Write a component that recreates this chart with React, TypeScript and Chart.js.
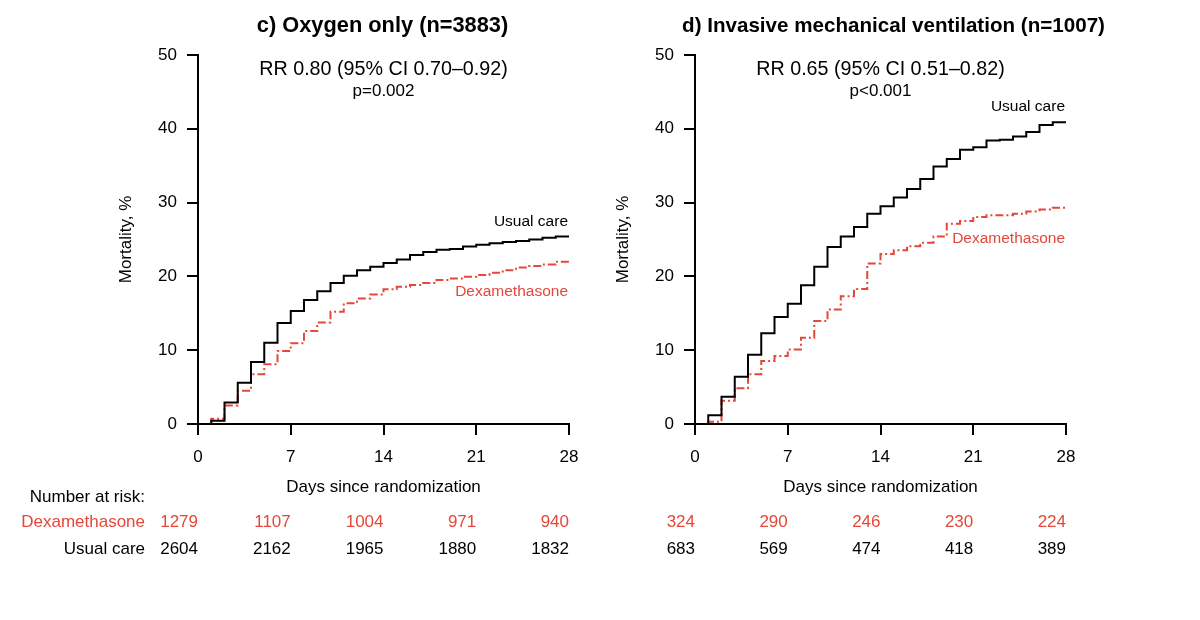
import { useEffect, useRef } from "react";
import { Chart, registerables } from "chart.js";

Chart.register(...registerables);

const FONT = '"Liberation Sans", Arial, Helvetica, sans-serif';
const RED = "#e5473a";
const INK = "#000000";

// Axis ticks
const X_TICKS = [0, 7, 14, 21, 28];
const Y_MAX = 50;
const Y_STEP = 10;
const END_DAY = 28;

// Day on which each step interval starts; the value holds until the next day
const STEP_DAYS = [1, 2, 3, 4, 5, 6, 7, 8, 9, 10, 11, 12, 13, 14, 15, 16, 17, 18, 19, 20, 21, 22, 23, 24, 25, 26, 27];

// c) Oxygen only — cumulative mortality (%)
const OXY_USUAL = [0.45, 2.9, 5.6, 8.4, 11.0, 13.7, 15.3, 16.8, 18.0, 19.1, 20.1, 20.85, 21.3, 21.8, 22.3, 22.9, 23.3, 23.6, 23.7, 24.05, 24.3, 24.5, 24.65, 24.8, 25.0, 25.25, 25.4];
const OXY_DEXA = [0.7, 2.5, 4.5, 6.75, 8.1, 9.9, 10.95, 12.6, 13.75, 15.2, 16.35, 17.0, 17.55, 18.25, 18.6, 18.85, 19.1, 19.5, 19.7, 19.95, 20.2, 20.5, 20.85, 21.2, 21.4, 21.6, 22.0];
const OXY_RISK_DEXA = [1279, 1107, 1004, 971, 940];
const OXY_RISK_USUAL = [2604, 2162, 1965, 1880, 1832];

// d) Invasive mechanical ventilation — cumulative mortality (%)
const IMV_USUAL = [1.2, 3.7, 6.4, 9.4, 12.3, 14.5, 16.3, 18.8, 21.3, 24.0, 25.4, 26.7, 28.5, 29.5, 30.7, 31.85, 33.2, 34.9, 35.9, 37.15, 37.5, 38.4, 38.5, 38.95, 39.55, 40.5, 40.9];
const IMV_DEXA = [0.3, 3.15, 4.85, 6.75, 8.55, 9.2, 10.1, 11.7, 13.95, 15.5, 17.3, 18.3, 21.75, 23.05, 23.55, 24.1, 24.55, 25.4, 27.15, 27.5, 28.05, 28.3, 28.3, 28.5, 28.8, 29.05, 29.3];
const IMV_RISK_DEXA = [324, 290, 246, 230, 224];
const IMV_RISK_USUAL = [683, 569, 474, 418, 389];

type PanelSpec = {
  title: string;
  titleSize: number;
  titleShift: number;
  rr: string;
  p: string;
  usual: number[];
  dexa: number[];
  riskDexa: number[];
  riskUsual: number[];
  usualLabelAt: number; // mortality % where the "Usual care" label sits
  dexaLabelAt: number;
  showRiskLabels: boolean;
  canvasLeft: number;
  pad: { left: number; right: number };
};

const PANELS: PanelSpec[] = [
  {
    title: "c) Oxygen only (n=3883)",
    titleSize: 21.8,
    titleShift: -1,
    rr: "RR 0.80 (95% CI 0.70\u20130.92)",
    p: "p=0.002",
    usual: OXY_USUAL,
    dexa: OXY_DEXA,
    riskDexa: OXY_RISK_DEXA,
    riskUsual: OXY_RISK_USUAL,
    usualLabelAt: 27.4,
    dexaLabelAt: 17.9,
    showRiskLabels: true,
    canvasLeft: 0,
    pad: { left: 116, right: 31 },
  },
  {
    title: "d) Invasive mechanical ventilation (n=1007)",
    titleSize: 20.6,
    titleShift: 13,
    rr: "RR 0.65 (95% CI 0.51\u20130.82)",
    p: "p<0.001",
    usual: IMV_USUAL,
    dexa: IMV_DEXA,
    riskDexa: IMV_RISK_DEXA,
    riskUsual: IMV_RISK_USUAL,
    usualLabelAt: 43.0,
    dexaLabelAt: 25.1,
    showRiskLabels: false,
    canvasLeft: 600,
    pad: { left: 13, right: 134 },
  },
];

const CANVAS_W = 600;
const CANVAS_H = 620;

// Kaplan–Meier style step points: flat at 0 until the first event day
function stepPoints(values: number[]) {
  const pts = [{ x: STEP_DAYS[0], y: 0 }];
  STEP_DAYS.forEach((d, i) => pts.push({ x: d, y: values[i] }));
  pts.push({ x: END_DAY, y: values[values.length - 1] });
  return pts;
}

function panelTextPlugin(p: PanelSpec) {
  return {
    id: "panelText",
    afterDraw(chart: any) {
      const { ctx, chartArea, scales } = chart;
      const x = scales.x;
      const y = scales.y;
      const cx = (chartArea.left + chartArea.right) / 2;
      ctx.save();
      ctx.textBaseline = "middle";
      ctx.textAlign = "center";
      ctx.fillStyle = INK;
      ctx.font = `bold ${p.titleSize}px ${FONT}`;
      ctx.fillText(p.title, cx + p.titleShift, 26);
      ctx.font = `19.7px ${FONT}`;
      ctx.fillText(p.rr, cx, 70);
      ctx.font = `17px ${FONT}`;
      ctx.fillText(p.p, cx, 91);

      // series labels at the right end of the curves
      const xr = x.getPixelForValue(END_DAY) - 1;
      ctx.textAlign = "right";
      ctx.font = `15.5px ${FONT}`;
      ctx.fillStyle = INK;
      ctx.fillText("Usual care", xr, y.getPixelForValue(p.usualLabelAt));
      ctx.fillStyle = RED;
      ctx.fillText("Dexamethasone", xr, y.getPixelForValue(p.dexaLabelAt));

      // number-at-risk table
      const rowHead = 497;
      const rowDexa = 522.5;
      const rowUsual = 549;
      ctx.font = `17px ${FONT}`;
      if (p.showRiskLabels) {
        const lx = 145;
        ctx.fillStyle = INK;
        ctx.fillText("Number at risk:", lx, rowHead);
        ctx.fillStyle = RED;
        ctx.fillText("Dexamethasone", lx, rowDexa);
        ctx.fillStyle = INK;
        ctx.fillText("Usual care", lx, rowUsual);
      }
      X_TICKS.forEach((d, i) => {
        const px = x.getPixelForValue(d);
        ctx.fillStyle = RED;
        ctx.fillText(String(p.riskDexa[i]), px, rowDexa);
        ctx.fillStyle = INK;
        ctx.fillText(String(p.riskUsual[i]), px, rowUsual);
      });
      ctx.restore();
    },
  };
}

function KMPanel({ spec }: { spec: PanelSpec }) {
  const ref = useRef<HTMLCanvasElement | null>(null);

  useEffect(() => {
    if (!ref.current) return;
    const tickFont = { family: FONT, size: 17 };
    const chart = new Chart(ref.current, {
      type: "line",
      data: {
        datasets: [
          {
            label: "Usual care",
            data: stepPoints(spec.usual),
            borderColor: INK,
            borderWidth: 2,
            stepped: true,
            pointRadius: 0,
            fill: false,
          },
          {
            label: "Dexamethasone",
            data: stepPoints(spec.dexa),
            borderColor: RED,
            borderWidth: 2,
            borderDash: [8, 3, 2, 3],
            borderCapStyle: "butt",
            stepped: true,
            pointRadius: 0,
            fill: false,
          },
        ],
      },
      options: {
        responsive: false,
        animation: false,
        devicePixelRatio: 1,
        layout: { padding: { left: spec.pad.left, right: spec.pad.right, top: 55, bottom: 122 } },
        plugins: {
          legend: { display: false },
          tooltip: { enabled: false },
        },
        scales: {
          x: {
            type: "linear",
            min: 0,
            max: END_DAY,
            afterBuildTicks: (s: any) => {
              s.ticks = X_TICKS.map((v) => ({ value: v }));
            },
            afterFit: (s: any) => {
              s.height = 74;
            },
            ticks: { font: tickFont, color: INK, padding: 12, maxRotation: 0, autoSkip: false },
            grid: { drawOnChartArea: false, drawTicks: true, tickLength: 11, color: INK, lineWidth: 2 },
            border: { display: true, color: INK, width: 2 },
            title: { display: true, text: "Days since randomization", font: tickFont, color: INK, padding: 0 },
          },
          y: {
            type: "linear",
            min: 0,
            max: Y_MAX,
            afterFit: (s: any) => {
              s.width = 82;
            },
            ticks: { stepSize: Y_STEP, font: tickFont, color: INK, padding: 10 },
            grid: { drawOnChartArea: false, drawTicks: true, tickLength: 11, color: INK, lineWidth: 2 },
            border: { display: true, color: INK, width: 2 },
            title: { display: true, text: "Mortality, %", font: tickFont, color: INK, padding: 0 },
          },
        },
      },
      plugins: [panelTextPlugin(spec)],
    } as any);
    return () => chart.destroy();
  }, [spec]);

  return (
    <canvas
      ref={ref}
      width={CANVAS_W}
      height={CANVAS_H}
      style={{ position: "absolute", left: spec.canvasLeft, top: 0, width: CANVAS_W, height: CANVAS_H }}
    />
  );
}

export default function App() {
  return (
    <div style={{ position: "absolute", left: 0, top: 0, width: 1200, height: 620, background: "#ffffff" }}>
      {PANELS.map((p) => (
        <KMPanel key={p.title} spec={p} />
      ))}
    </div>
  );
}
